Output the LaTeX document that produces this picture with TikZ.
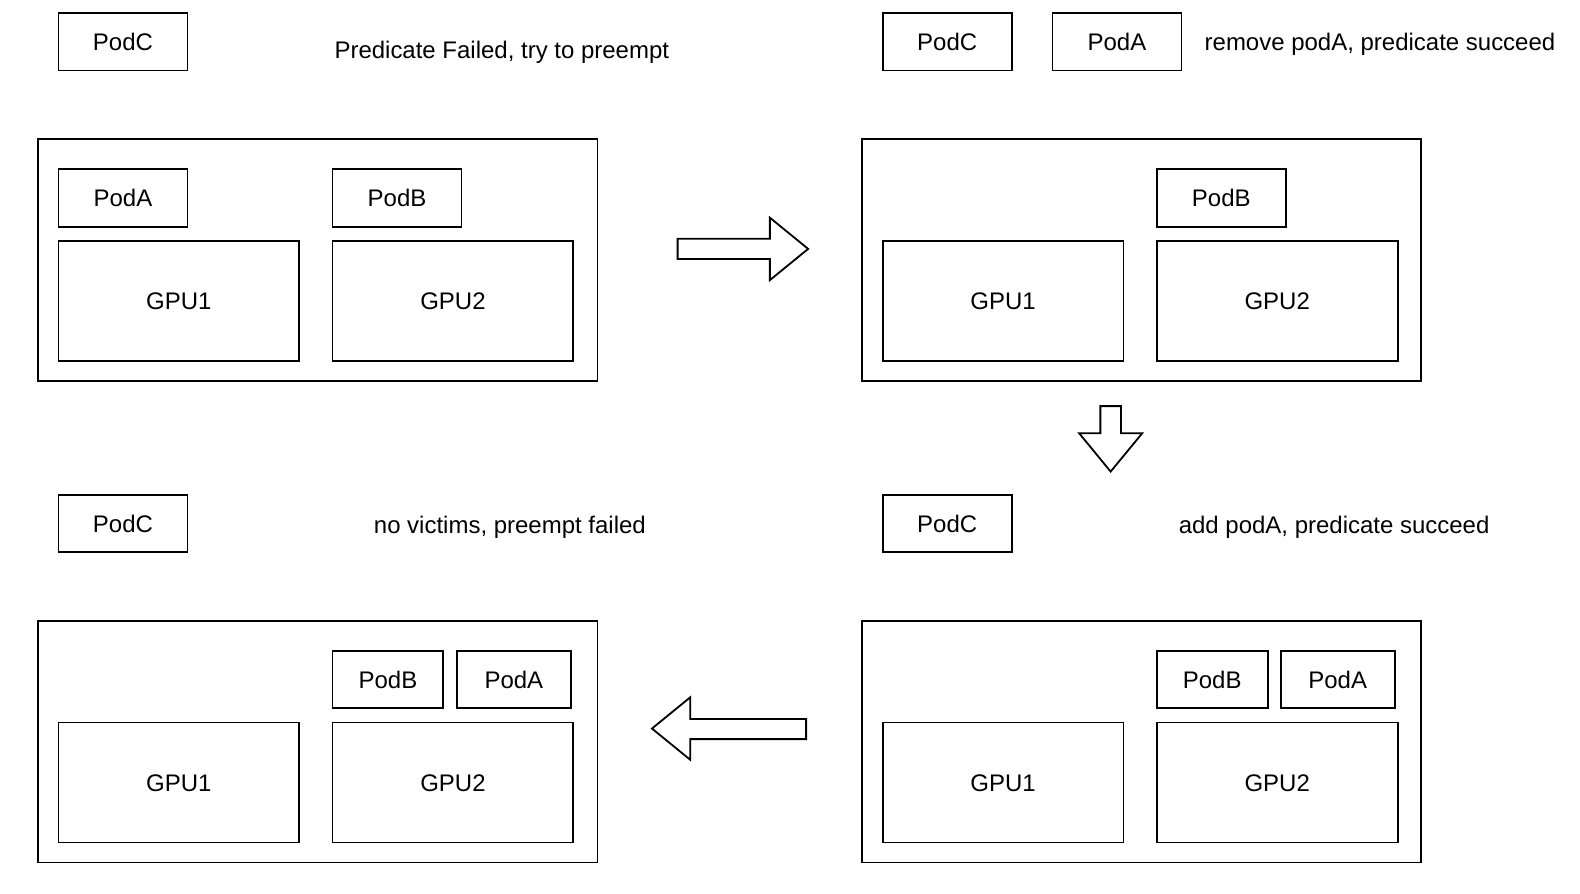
\documentclass[tikz,border=0pt]{standalone}
\usepackage{fontspec}
\setmainfont{Liberation Sans}
\begin{document}
\begin{tikzpicture}[x=1pt,y=-1pt,
  every node/.style={font=\fontsize{23.8pt}{28pt}\selectfont, text height=17pt, text depth=0pt, inner sep=0pt},
  pod/.style={draw, line width=1.8pt, minimum height=57pt},
  gpu/.style={draw, line width=1.8pt, minimum width=239pt, minimum height=119pt},
  host/.style={draw, line width=1.8pt, minimum width=555pt, minimum height=240pt},
  lbl/.style={},
  blockarrow/.style={draw, line width=1.8pt, line join=miter}]
\useasboundingbox (0,0) rectangle (1568,887);

% ---------- top-left ----------
\node[pod, minimum width=128pt] (tlC) at (122,41.5) {PodC};
\node[lbl] (tlT) at (498,50) {Predicate Failed, try to preempt};
\node[host] (tlH) at (315.5,258) {};
\node[pod, minimum width=128pt] (tlA) at (122,196.5) {PodA};
\node[pod, minimum width=128pt] (tlB) at (394,196.5) {PodB};
\node[gpu] (tlG1) at (177.5,298.5) {GPU1};
\node[gpu] (tlG2) at (449.5,298.5) {GPU2};

% ---------- top-right ----------
\node[pod, minimum width=128pt] (trC) at (940,41.5) {PodC};
\node[pod, minimum width=128pt] (trA) at (1108.5,41.5) {PodA};
\node[lbl] (trT) at (1369.5,42) {remove podA, predicate succeed};
\node[host] (trH) at (1133,258) {};
\node[pod, minimum width=128pt] (trB) at (1212,196.5) {PodB};
\node[gpu] (trG1) at (995.5,298.5) {GPU1};
\node[gpu] (trG2) at (1267.5,298.5) {GPU2};

% ---------- bottom-right ----------
\node[pod, minimum width=128pt] (brC) at (940,519.5) {PodC};
\node[lbl] (brT) at (1324,521) {add podA, predicate succeed};
\node[host] (brH) at (1133,736) {};
\node[pod, minimum width=110pt] (brB) at (1203,674.5) {PodB};
\node[pod, minimum width=113pt] (brA) at (1327.5,674.5) {PodA};
\node[gpu] (brG1) at (995.5,776.5) {GPU1};
\node[gpu] (brG2) at (1267.5,776.5) {GPU2};

% ---------- bottom-left ----------
\node[pod, minimum width=128pt] (blC) at (122,519.5) {PodC};
\node[lbl] (blT) at (506,521) {no victims, preempt failed};
\node[host] (blH) at (315.5,736) {};
\node[pod, minimum width=110pt] (blB) at (385,674.5) {PodB};
\node[pod, minimum width=113pt] (blA) at (510,674.5) {PodA};
\node[gpu] (blG1) at (177.5,776.5) {GPU1};
\node[gpu] (blG2) at (449.5,776.5) {GPU2};

% ---------- block arrows ----------
\draw[blockarrow] (672.5,237) -- (764,237) -- (764,216) -- (802,247) -- (764,278) -- (764,257) -- (672.5,257) -- cycle;
\draw[blockarrow] (1092,403) -- (1112.5,403) -- (1112.5,430) -- (1133.5,430) -- (1102.2,468) -- (1071,430) -- (1092,430) -- cycle;
\draw[blockarrow] (800,713.5) -- (685,713.5) -- (685,692) -- (647,723) -- (685,754) -- (685,733.5) -- (800,733.5) -- cycle;
\end{tikzpicture}
\end{document}
